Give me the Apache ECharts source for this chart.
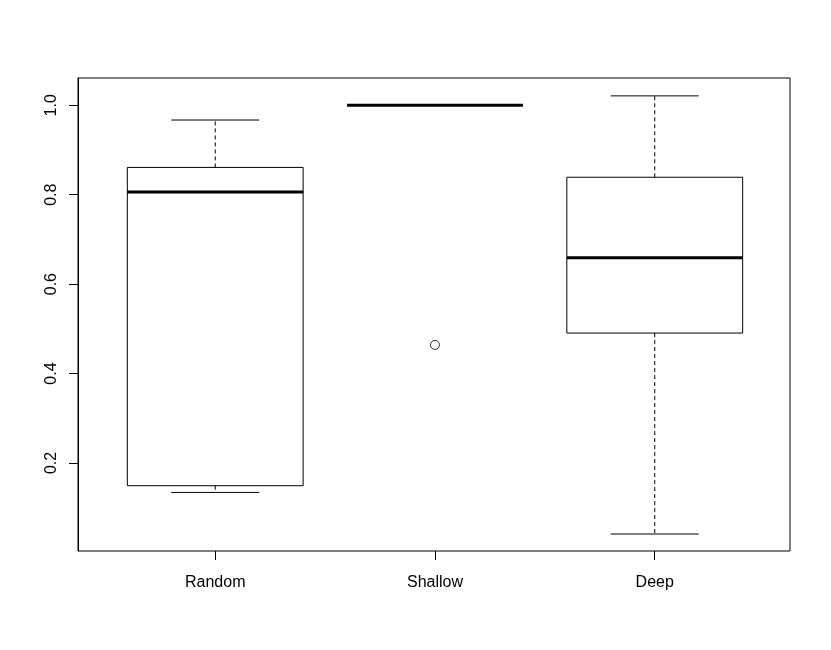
<!DOCTYPE html>
<html>
<head>
<meta charset="utf-8">
<script src="https://cdn.jsdelivr.net/npm/echarts@6/dist/echarts.min.js"></script>
<style>html,body{margin:0;padding:0;background:#fff;}#c{width:831px;height:650px;}</style>
</head>
<body>
<div id="c"></div>
<script>
const categories = ['Random', 'Shallow', 'Deep'];
const lowWhisker = [0.134, 1.0, 0.041];
const q1 = [0.149, 1.0, 0.4905];
const median = [0.806, 1.0, 0.659];
const q3 = [0.861, 1.0, 0.839];
const highWhisker = [0.967, 1.0, 1.021];
const outliers = [[2, 0.464]];
const yTicks = [0.2, 0.4, 0.6, 0.8, 1.0];

const boxData = categories.map((c, i) => [i + 1, lowWhisker[i], q1[i], median[i], q3[i], highWhisker[i]]);

const chart = echarts.init(document.getElementById('c'), null, {renderer: 'canvas'});
const FONT = 'Liberation Sans, Arial, Helvetica, sans-serif';

function renderBox(params, api) {
  const x = api.value(0);
  const lo = api.value(1), a = api.value(2), m = api.value(3), b = api.value(4), hi = api.value(5);
  const BW = 0.4, CW = 0.2;
  const pL = api.coord([x - BW, b]);
  const pR = api.coord([x + BW, a]);
  const c = api.coord([x, 0])[0];
  const cl = api.coord([x - CW, 0])[0];
  const cr = api.coord([x + CW, 0])[0];
  const yLo = api.coord([x, lo])[1], yA = api.coord([x, a])[1], yM = api.coord([x, m])[1], yB = api.coord([x, b])[1], yHi = api.coord([x, hi])[1];
  const line = '#000';
  const children = [
    {type: 'line', shape: {x1: c, y1: yB, x2: c, y2: yHi}, style: {stroke: line, lineWidth: 1, lineDash: [4, 3]}},
    {type: 'line', shape: {x1: c, y1: yA, x2: c, y2: yLo}, style: {stroke: line, lineWidth: 1, lineDash: [4, 3]}},
    {type: 'line', shape: {x1: cl, y1: yHi, x2: cr, y2: yHi}, style: {stroke: line, lineWidth: 1}},
    {type: 'line', shape: {x1: cl, y1: yLo, x2: cr, y2: yLo}, style: {stroke: line, lineWidth: 1}},
    {type: 'rect', shape: {x: pL[0], y: yB, width: pR[0] - pL[0], height: yA - yB}, style: {fill: 'none', stroke: line, lineWidth: 1}},
    {type: 'line', shape: {x1: pL[0], y1: yM, x2: pR[0], y2: yM}, style: {stroke: line, lineWidth: 3}}
  ];
  return {type: 'group', children: children};
}

chart.setOption({
  backgroundColor: '#fff',
  animation: false,
  grid: {left: 78, top: 78, right: 41, bottom: 99, show: true, borderColor: '#000', borderWidth: 1, backgroundColor: 'transparent'},
  xAxis: {
    type: 'value', min: 0.3755, max: 3.6155,
    splitLine: {show: false},
    axisLine: {show: false},
    axisTick: {show: true, length: 9, customValues: [1, 2, 3], lineStyle: {color: '#000'}},
    axisLabel: {show: true, customValues: [1, 2, 3], margin: 24, fontSize: 16, color: '#000', fontFamily: FONT,
      formatter: v => categories[Math.round(v) - 1] || ''}
  },
  yAxis: {
    type: 'value', min: 0.003, max: 1.061,
    splitLine: {show: false},
    axisLine: {show: true, lineStyle: {color: '#000'}},
    axisTick: {show: true, length: 9, customValues: yTicks, lineStyle: {color: '#000'}},
    axisLabel: {show: true, customValues: yTicks, rotate: 90, margin: 18, fontSize: 16, color: '#000', fontFamily: FONT,
      formatter: v => v.toFixed(1)}
  },
  series: [
    {type: 'custom', renderItem: renderBox, data: boxData, encode: {x: 0, y: [1, 2, 3, 4, 5]}, clip: false, silent: true},
    {type: 'scatter', data: outliers, symbol: 'circle', symbolSize: 9,
      itemStyle: {color: '#fff', borderColor: '#000', borderWidth: 1}, silent: true}
  ]
});
</script>
</body>
</html>
